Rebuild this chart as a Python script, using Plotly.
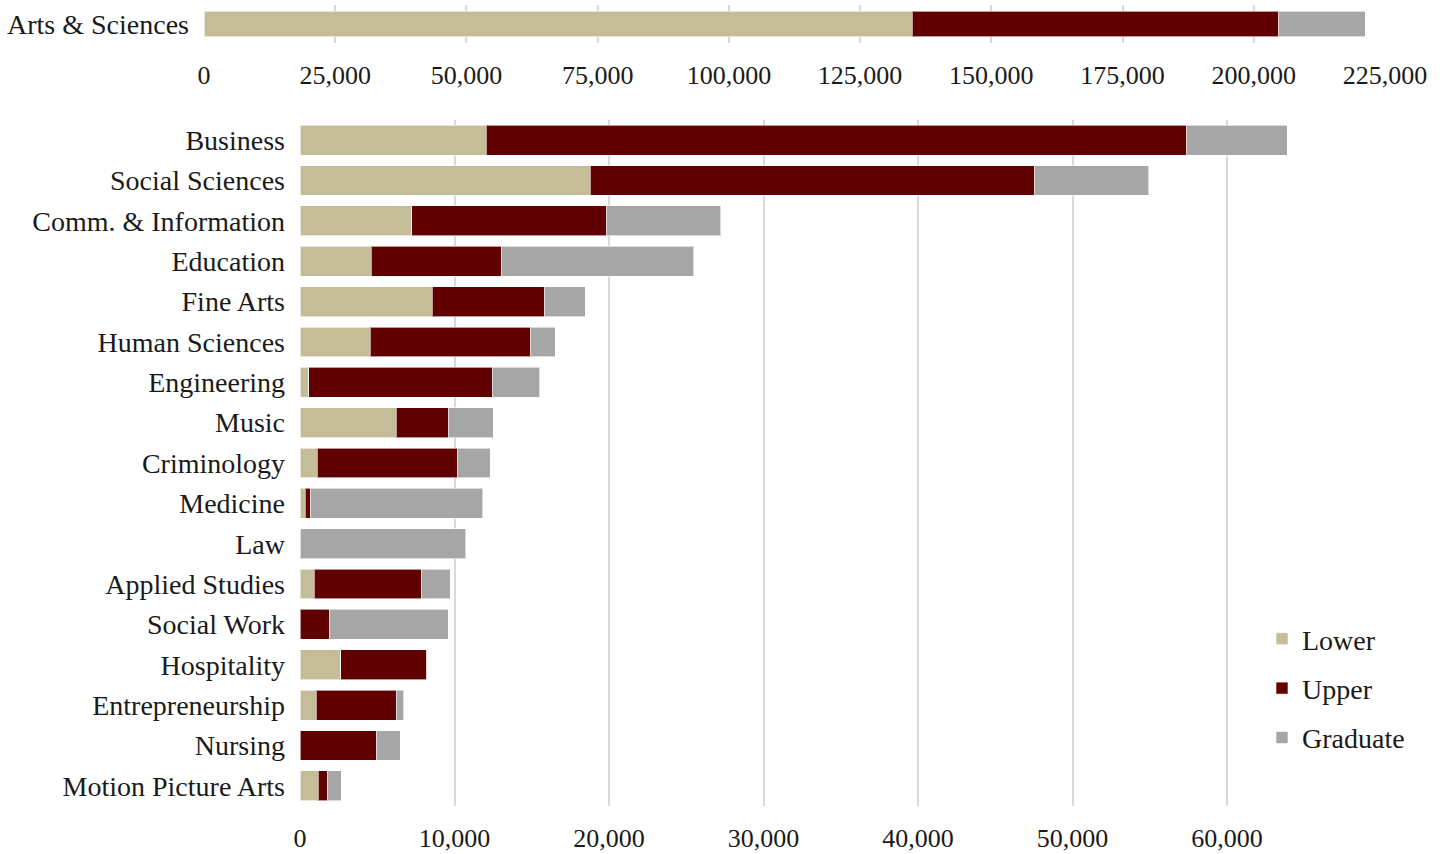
import plotly.graph_objects as go

# ---- data ----
top_category = ["Arts & Sciences"]
top_lower = [134900]
top_upper = [69900]
top_graduate = [16400]

categories = ["Business", "Social Sciences", "Comm. & Information", "Education", "Fine Arts",
              "Human Sciences", "Engineering", "Music", "Criminology", "Medicine", "Law",
              "Applied Studies", "Social Work", "Hospitality", "Entrepreneurship", "Nursing",
              "Motion Picture Arts"]
lower = [12050, 18770, 7240, 4600, 8550, 4540, 580, 6220, 1100, 340, 0, 930, 0, 2640, 1060, 0, 1170]
upper = [45360, 28790, 12590, 8410, 7260, 10360, 11860, 3420, 9070, 310, 0, 6960, 1880, 5570, 5160, 4940, 600]
graduate = [6480, 7390, 7390, 12460, 2660, 1620, 3090, 2870, 2140, 11190, 10740, 1850, 7710, 40, 500, 1540, 890]

series_names = ["Lower", "Upper", "Graduate"]
colors = ["#C5BD98", "#600000", "#A6A6A6"]

top_ticks = list(range(0, 225001, 25000))
bottom_ticks = list(range(0, 60001, 10000))

W, H = 1445, 854
FONT = "Liberation Serif"
FS_NUM = 26
FS_TXT = 28
TXT = "#1a1a1a"

fig = go.Figure()
line = dict(color="rgba(255,255,255,0.6)", width=1)

for name, vals, col in zip(series_names, [top_lower, top_upper, top_graduate], colors):
    fig.add_trace(go.Bar(y=top_category, x=vals, orientation="h", name=name,
                         marker=dict(color=col, line=line), width=0.68,
                         xaxis="x", yaxis="y", showlegend=False, hoverinfo="x+name"))

for name, vals, col in zip(series_names, [lower, upper, graduate], colors):
    fig.add_trace(go.Bar(y=categories, x=vals, orientation="h", name=name,
                         marker=dict(color=col, line=line), width=0.74,
                         xaxis="x2", yaxis="y2", legendgroup=name, showlegend=True))

def px_x(p):
    return p / W

def px_y(p):
    return 1 - p / H

xgrid = dict(showgrid=True, gridcolor="#D9D9D9", gridwidth=1.5, zeroline=False,
             showline=False, ticks="", automargin=False,
             tickfont=dict(family=FONT, size=FS_NUM, color=TXT))
ycat = dict(showgrid=False, zeroline=False, showline=False, ticks="", automargin=False,
            ticklabelstandoff=14, tickfont=dict(family=FONT, size=FS_TXT, color=TXT))

fig.update_layout(
    width=W, height=H,
    margin=dict(l=0, r=0, t=0, b=0, autoexpand=False),
    paper_bgcolor="white", plot_bgcolor="white",
    barmode="stack",
    font=dict(family=FONT, size=FS_TXT, color=TXT),
    xaxis=dict(domain=[px_x(204), px_x(1385)], range=[0, 225000], tickvals=top_ticks,
               tickformat=",", anchor="y", ticklabelstandoff=14, **xgrid),
    yaxis=dict(domain=[px_y(43), px_y(5)], anchor="x", **ycat),
    xaxis2=dict(domain=[px_x(300), px_x(1381.5)], range=[0, 70000], tickvals=bottom_ticks,
                tickformat=",", anchor="y2", ticklabelstandoff=14, **xgrid),
    yaxis2=dict(domain=[px_y(806), px_y(120)], anchor="x2", autorange="reversed",
                categoryorder="array", categoryarray=categories, **ycat),
    legend=dict(x=px_x(1262), xanchor="left", y=px_y(614), yanchor="top",
                font=dict(family=FONT, size=FS_TXT, color=TXT), tracegroupgap=10,
                bgcolor="rgba(0,0,0,0)", traceorder="grouped"),
)

fig.write_html("out.html", config={"displayModeBar": False},
               post_script="document.body.style.margin='0px';")
